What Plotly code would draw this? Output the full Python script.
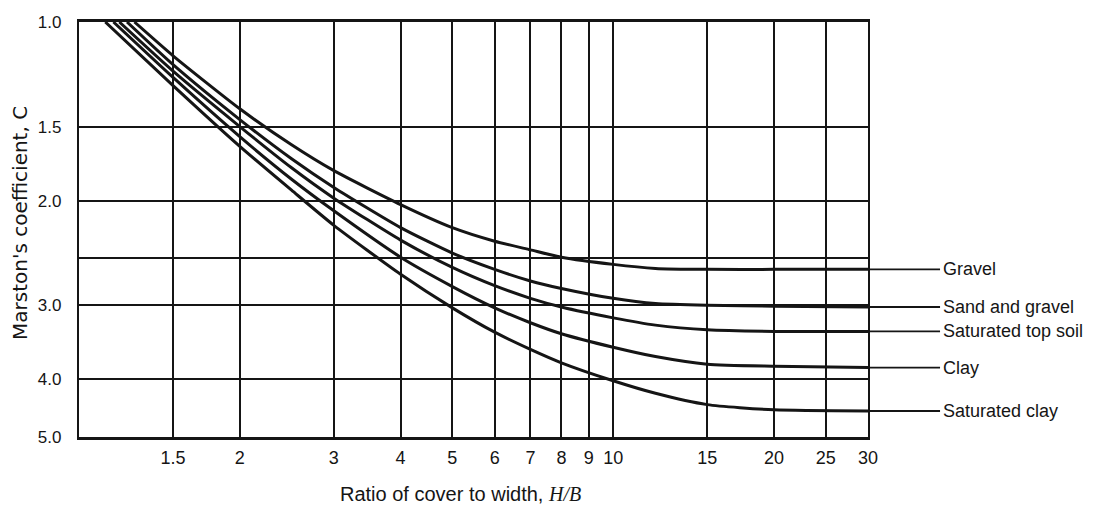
import math
import plotly.graph_objects as go

# ---- data ----
hb = [1.5, 2, 2.5, 3, 4, 5, 6, 7, 8, 10, 12, 15, 20, 30]
gravel = [1.14, 1.40, 1.61, 1.78, 2.03, 2.22, 2.34, 2.42, 2.49, 2.56, 2.60, 2.61, 2.61, 2.61]
sand_gravel = [1.18, 1.46, 1.70, 1.90, 2.22, 2.45, 2.61, 2.73, 2.81, 2.92, 2.98, 3.00, 3.01, 3.02]
sat_topsoil = [1.21, 1.50, 1.76, 1.98, 2.33, 2.59, 2.78, 2.92, 3.02, 3.15, 3.24, 3.30, 3.32, 3.32]
clay = [1.24, 1.56, 1.84, 2.08, 2.49, 2.79, 3.03, 3.21, 3.35, 3.53, 3.66, 3.77, 3.80, 3.82]
sat_clay = [1.28, 1.62, 1.92, 2.20, 2.66, 3.03, 3.33, 3.56, 3.75, 4.02, 4.22, 4.41, 4.50, 4.52]

soil_names = ["Gravel", "Sand and gravel", "Saturated top soil", "Clay", "Saturated clay"]
start_hb = [1.27, 1.23, 1.19, 1.16, 1.12]   # H/B where each curve leaves C = 1.0
start_c = 1.0

x_ticks = [1.5, 2, 3, 4, 5, 6, 7, 8, 9, 10, 15, 20, 25, 30]
x_tick_text = ["1.5", "2", "3", "4", "5", "6", "7", "8", "9", "10", "15", "20", "25", "30"]
y_ticks = [1.0, 1.5, 2.0, 2.5, 3.0, 4.0, 5.0]
y_tick_text = ["1.0", "1.5", "2.0", "", "3.0", "4.0", "5.0"]

series = [gravel, sand_gravel, sat_topsoil, clay, sat_clay]

FONT = "Liberation Sans, Arial, sans-serif"
INK = "#151515"
Y_MIN, Y_MAX = 1.0, 5.0

fig = go.Figure()
for name, vals, x0 in zip(soil_names, series, start_hb):
    fig.add_trace(go.Scatter(
        x=[x0] + hb, y=[start_c] + vals, mode="lines", name=name,
        line=dict(color=INK, width=3, shape="spline", smoothing=0.6),
        showlegend=False, hoverinfo="skip"))

shapes = []
annotations = []
for name, vals in zip(soil_names, series):
    # position of the plateau value on the reversed log axis, as a paper fraction
    py = 1 - (math.log10(vals[-1]) - math.log10(Y_MIN)) / (math.log10(Y_MAX) - math.log10(Y_MIN))
    shapes.append(dict(type="line", xref="paper", yref="paper", x0=1.0, x1=1.0913,
                       y0=py, y1=py, line=dict(color=INK, width=1.8)))
    annotations.append(dict(xref="paper", yref="paper", x=1.093, y=py, text=name,
                            showarrow=False, xanchor="left", yanchor="middle",
                            font=dict(family=FONT, size=18, color=INK)))

annotations.append(dict(
    xref="paper", yref="paper", x=-0.0748, y=0.5157, textangle=-90,
    text="Marston's coefficient, C",
    showarrow=False, xanchor="center", yanchor="middle",
    font=dict(family="DejaVu Sans, Liberation Sans, sans-serif", size=20, color=INK)))
annotations.append(dict(
    xref="paper", yref="paper", x=0.484, y=-0.137,
    text="Ratio of cover to width, <span style='font-family:Liberation Serif;font-style:italic'>H/B</span>",
    showarrow=False, xanchor="center", yanchor="middle",
    font=dict(family=FONT, size=20, color=INK)))

fig.update_layout(
    width=1091, height=497,
    margin=dict(l=71, r=231, t=14, b=68, autoexpand=False),
    paper_bgcolor="white", plot_bgcolor="white",
    shapes=shapes, annotations=annotations,
    xaxis=dict(type="log", range=[0, math.log10(30)], tickvals=x_ticks, ticktext=x_tick_text,
               showgrid=True, gridcolor=INK, gridwidth=1.7, zeroline=False,
               showline=True, mirror=True, linecolor=INK, linewidth=2.5,
               ticks="", ticklabelstandoff=3, automargin=False,
               tickfont=dict(family=FONT, size=18, color=INK)),
    yaxis=dict(type="log", range=[math.log10(Y_MAX), math.log10(Y_MIN)],
               tickvals=y_ticks, ticktext=y_tick_text,
               showgrid=True, gridcolor=INK, gridwidth=1.7, zeroline=False,
               showline=True, mirror=True, linecolor=INK, linewidth=2.2,
               ticks="", ticklabelstandoff=12, automargin=False,
               tickfont=dict(family=FONT, size=17, color=INK)),
)

fig.write_html("out.html")
